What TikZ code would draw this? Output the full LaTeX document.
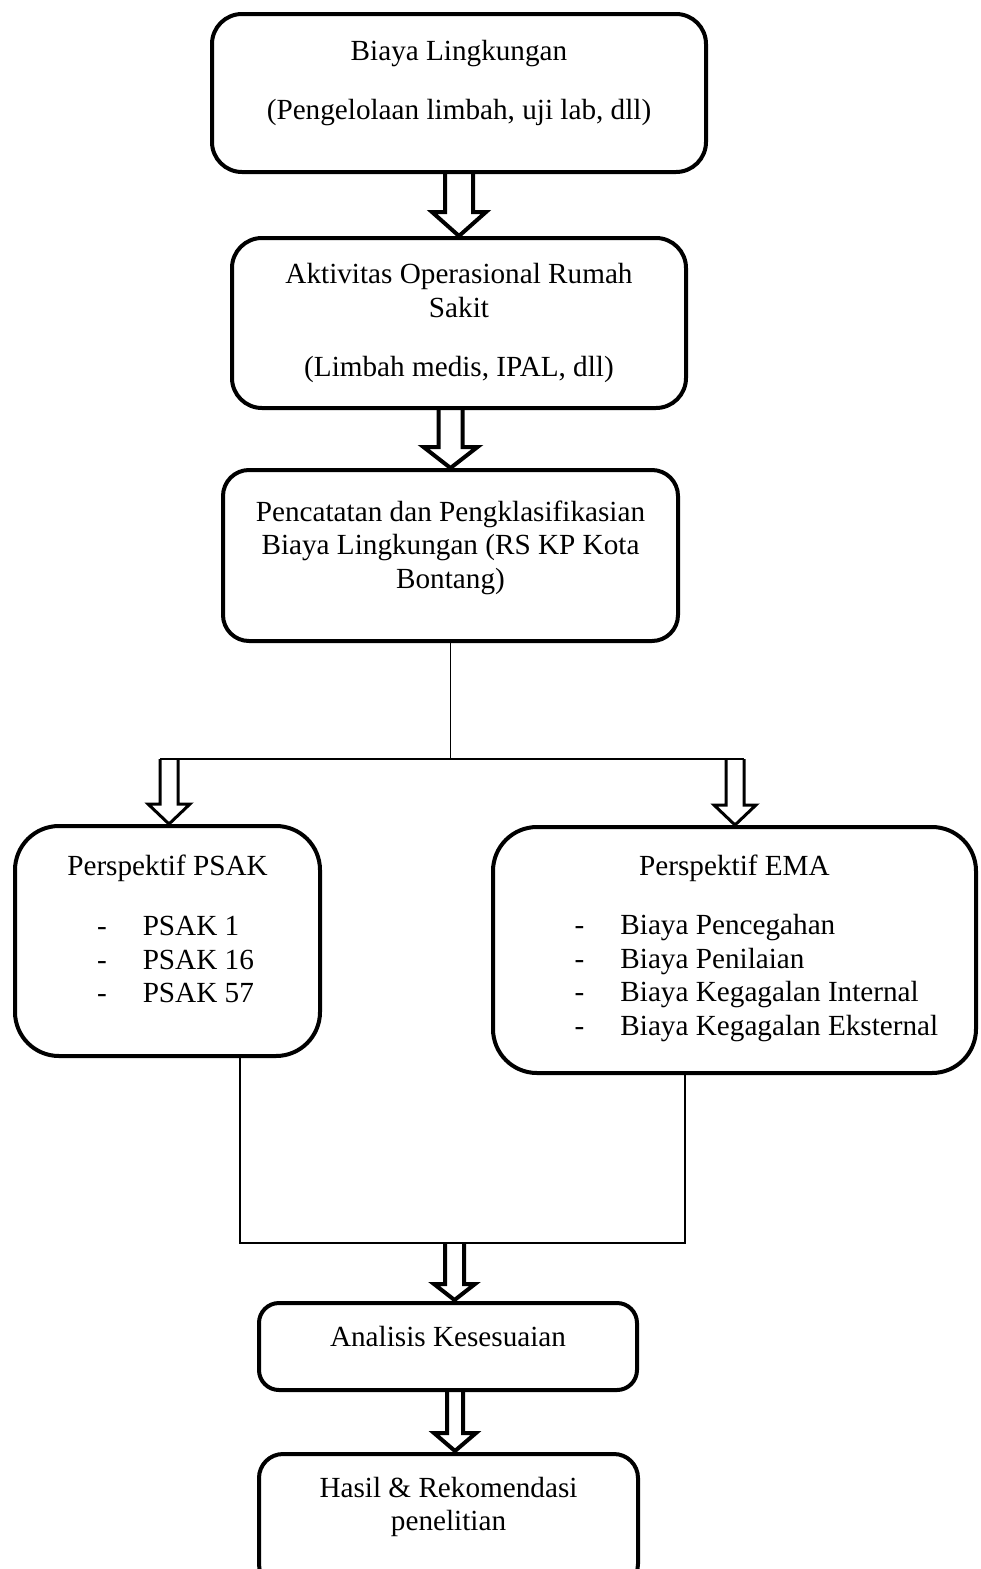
\documentclass[tikz,border=0pt]{standalone}
\usepackage{fontspec}
\setmainfont{Liberation Serif}
\usepackage{tikz}
\usetikzlibrary{calc}
\tikzset{
  box/.style={rectangle, draw=black, align=center, line width=2pt,
    font=\fontsize{14.6}{16.8}\selectfont, inner sep=0pt},
  connector/.style={draw=black, line width=0.7pt},
  hollow/.style={draw=black, line width=2pt},
  thinhollow/.style={draw=black, line width=1.5pt}
}
% extra depth under the last line, lifts the text in its box
\newcommand{\lowpad}[1]{\rule[-#1]{0pt}{#1}}
% hollow block arrow: [style]{start}{tip}{half shaft}{half head}{head length}
\newcommand{\blockarrow}[6][hollow]{%
  \draw[#1] let \p1=(#2), \p2=(#3) in
    (\x2-#4,\y1) -- (\x2-#4,\y2+#6) -- (\x2-#5,\y2+#6) -- (\x2,\y2)
    -- (\x2+#5,\y2+#6) -- (\x2+#4,\y2+#6) -- (\x2+#4,\y1);}

\begin{document}
\begin{tikzpicture}[x=0.5pt, y=-0.5pt]
  \useasboundingbox (0,0) rectangle (980,1569);

  % Main flow
  \node[box, minimum width=247pt, minimum height=79pt, rounded corners=15pt] (biaya) at (459,93)
    {Biaya Lingkungan\\[13pt](Pengelolaan limbah, uji lab, dll)\lowpad{13pt}};
  \node[box, minimum width=227pt, minimum height=85pt, rounded corners=15pt] (aktivitas) at (459,323)
    {Aktivitas Operasional Rumah\\Sakit\\[13pt](Limbah medis, IPAL, dll)};
  \node[box, minimum width=227.5pt, minimum height=85.5pt, rounded corners=13pt] (pencatatan) at (450.5,555.5)
    {Pencatatan dan Pengklasifikasian\\Biaya Lingkungan (RS KP Kota\\Bontang)\lowpad{11pt}};

  % Two perspectives
  \node[box, minimum width=152.5pt, minimum height=115pt, rounded corners=22pt] (psak) at (167.5,941)
    {Perspektif PSAK\\[13pt]\hspace*{8pt}\begin{tabular}[t]{@{}l@{\hspace{18pt}}l@{}}
      -&PSAK 1\\ -&PSAK 16\\ -&PSAK 57\lowpad{12pt}\end{tabular}};
  \node[box, minimum width=241.5pt, minimum height=123pt, rounded corners=22pt] (ema) at (734.5,950)
    {Perspektif EMA\\[13pt]\hspace*{22pt}\begin{tabular}[t]{@{}l@{\hspace{18pt}}l@{}}
      -&Biaya Pencegahan\\ -&Biaya Penilaian\\ -&Biaya Kegagalan Internal\\
      -&Biaya Kegagalan Eksternal\end{tabular}};

  % Result
  \node[box, minimum width=189pt, minimum height=43.5pt, rounded corners=10pt] (analisis) at (448,1346.5)
    {Analisis Kesesuaian\lowpad{10pt}};
  \node[box, minimum width=189.5pt, minimum height=67pt, rounded corners=12pt] (hasil) at (448.5,1521)
    {Hasil \& Rekomendasi\\penelitian\lowpad{17pt}};

  % Split and merge points
  \coordinate (split) at (pencatatan.south |- 0,759);
  \coordinate (splitL) at (169,759);
  \coordinate (splitR) at (735,759);
  \coordinate (mergeL) at (240,1243);
  \coordinate (mergeR) at (685,1243);
  \coordinate (merge) at (454.5,1243);
  \coordinate (mergetip) at (454.5,1300);
  \coordinate (lastfrom) at (455,1392);
  \coordinate (lasttip) at (455,1451);

  \draw[connector] (pencatatan.south) -- (split);
  \draw[connector] ([xshift=-4.5pt]splitL) -- ([xshift=4.5pt]splitR);
  \draw[connector] (mergeL |- psak.south) -- (mergeL) -- (mergeR) -- (mergeR |- ema.south);

  % Block arrows
  \blockarrow{biaya.south}{aktivitas.north}{7pt}{13.5pt}{12pt}
  \blockarrow{pencatatan.north |- aktivitas.south}{pencatatan.north}{6pt}{13.5pt}{10.5pt}
  \blockarrow[thinhollow]{splitL}{psak.north -| splitL}{4.5pt}{10.5pt}{10pt}
  \blockarrow[thinhollow]{splitR}{ema.north -| splitR}{4.5pt}{10.5pt}{10pt}
  \blockarrow{merge}{mergetip}{4.75pt}{10.25pt}{8pt}
  \blockarrow{lastfrom}{lasttip}{4pt}{10.5pt}{9pt}
\end{tikzpicture}
\end{document}
